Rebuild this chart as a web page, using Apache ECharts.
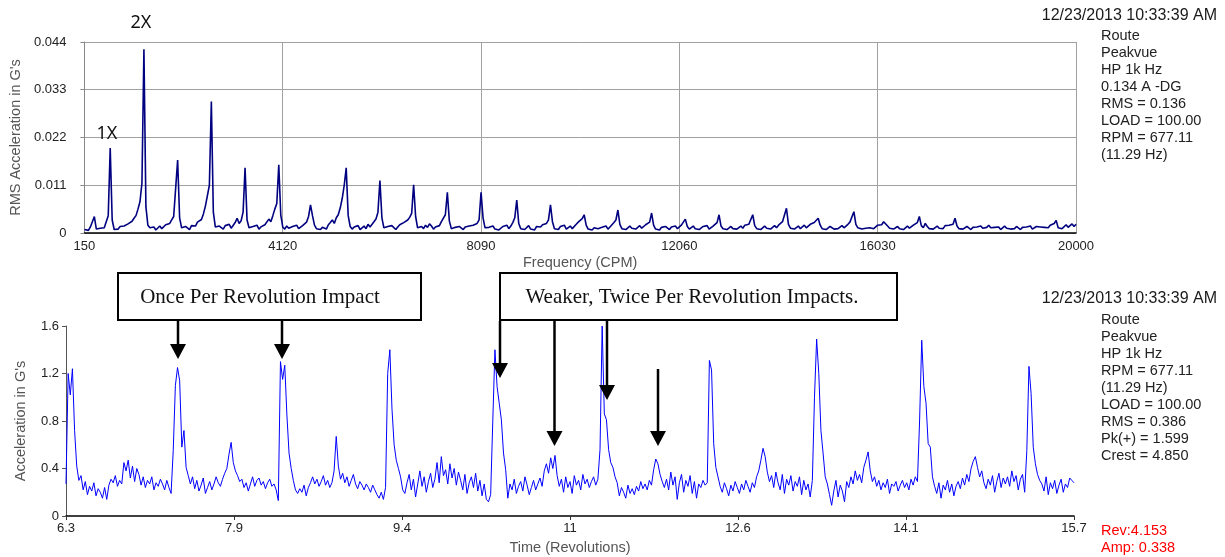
<!DOCTYPE html>
<html>
<head>
<meta charset="utf-8">
<script src="https://cdn.jsdelivr.net/npm/echarts@6/dist/echarts.min.js"></script>
<style>
html,body{margin:0;padding:0;background:#fff;}
#chart{width:1225px;height:557px;}
</style>
</head>
<body>
<div id="chart"></div>
<script>
// ---------------- DATA ----------------
// Spectrum: uniform frequency grid (CPM), amplitudes (G's RMS)
const specStartCPM = 150;
const specStepCPM = 39.7;
const specAmp = [
0.0008,0.0012,0.0006,0.0014,0.0010,0.0038,0.0009,0.0013,0.0011,0.0015,
0.0012,0.0016,0.0040,0.0196,0.0030,0.0008,0.0012,0.0009,0.0015,0.0011,
0.0016,0.0013,0.0021,0.0018,0.0027,0.0034,0.0040,0.0055,0.0072,0.0115,
0.0423,0.0060,0.0018,0.0012,0.0009,0.0014,0.0007,0.0011,0.0016,0.0010,
0.0013,0.0019,0.0015,0.0022,0.0030,0.0038,0.0042,0.0168,0.0035,0.0012,
0.0009,0.0015,0.0011,0.0008,0.0017,0.0020,0.0016,0.0025,0.0022,0.0031,
0.0044,0.0062,0.0058,0.0110,0.0303,0.0048,0.0014,0.0010,0.0016,0.0012,
0.0009,0.0017,0.0013,0.0020,0.0011,0.0015,0.0024,0.0034,0.0022,0.0028,
0.0048,0.0150,0.0030,0.0012,0.0008,0.0015,0.0011,0.0018,0.0009,0.0014,
0.0012,0.0019,0.0016,0.0032,0.0026,0.0040,0.0055,0.0068,0.0157,0.0042,
0.0014,0.0009,0.0016,0.0011,0.0007,0.0015,0.0012,0.0018,0.0010,0.0014,
0.0017,0.0013,0.0025,0.0038,0.0065,0.0040,0.0018,0.0010,0.0014,0.0008,
0.0013,0.0016,0.0009,0.0019,0.0024,0.0030,0.0022,0.0035,0.0042,0.0058,
0.0080,0.0110,0.0150,0.0040,0.0015,0.0009,0.0014,0.0011,0.0017,0.0008,
0.0012,0.0016,0.0010,0.0020,0.0014,0.0018,0.0026,0.0032,0.0048,0.0121,
0.0035,0.0012,0.0009,0.0015,0.0011,0.0017,0.0013,0.0008,0.0014,0.0019,
0.0016,0.0024,0.0021,0.0030,0.0036,0.0045,0.0111,0.0038,0.0012,0.0009,
0.0015,0.0010,0.0018,0.0013,0.0021,0.0016,0.0009,0.0014,0.0011,0.0017,
0.0026,0.0030,0.0042,0.0094,0.0028,0.0010,0.0007,0.0013,0.0009,0.0015,
0.0011,0.0008,0.0014,0.0010,0.0016,0.0012,0.0018,0.0015,0.0022,0.0030,
0.0094,0.0035,0.0012,0.0008,0.0013,0.0010,0.0016,0.0009,0.0012,0.0007,
0.0011,0.0015,0.0013,0.0018,0.0010,0.0016,0.0024,0.0035,0.0076,0.0022,
0.0010,0.0014,0.0008,0.0012,0.0017,0.0009,0.0013,0.0007,0.0015,0.0011,
0.0014,0.0019,0.0016,0.0022,0.0030,0.0065,0.0026,0.0010,0.0013,0.0008,
0.0015,0.0011,0.0018,0.0009,0.0013,0.0016,0.0010,0.0014,0.0020,0.0025,
0.0028,0.0033,0.0042,0.0018,0.0009,0.0013,0.0007,0.0012,0.0015,0.0010,
0.0008,0.0013,0.0011,0.0016,0.0009,0.0014,0.0019,0.0024,0.0030,0.0053,
0.0020,0.0010,0.0014,0.0008,0.0012,0.0016,0.0011,0.0015,0.0009,0.0013,
0.0017,0.0011,0.0014,0.0019,0.0016,0.0025,0.0046,0.0018,0.0009,0.0012,
0.0007,0.0013,0.0010,0.0015,0.0011,0.0008,0.0014,0.0012,0.0016,0.0010,
0.0013,0.0018,0.0022,0.0032,0.0015,0.0009,0.0012,0.0016,0.0010,0.0014,
0.0008,0.0012,0.0015,0.0011,0.0017,0.0009,0.0013,0.0016,0.0020,0.0024,
0.0042,0.0016,0.0010,0.0013,0.0008,0.0012,0.0015,0.0010,0.0014,0.0009,
0.0012,0.0016,0.0011,0.0018,0.0014,0.0020,0.0024,0.0042,0.0017,0.0010,
0.0013,0.0008,0.0012,0.0016,0.0011,0.0014,0.0009,0.0013,0.0017,0.0012,
0.0018,0.0022,0.0026,0.0030,0.0057,0.0020,0.0011,0.0014,0.0009,0.0013,
0.0016,0.0010,0.0014,0.0018,0.0012,0.0015,0.0020,0.0017,0.0024,0.0022,
0.0034,0.0018,0.0010,0.0013,0.0008,0.0012,0.0015,0.0011,0.0009,0.0013,
0.0010,0.0014,0.0017,0.0012,0.0016,0.0020,0.0025,0.0024,0.0049,0.0020,
0.0012,0.0016,0.0009,0.0013,0.0011,0.0008,0.0012,0.0015,0.0010,0.0014,
0.0018,0.0022,0.0019,0.0026,0.0029,0.0016,0.0011,0.0014,0.0009,0.0012,
0.0015,0.0010,0.0013,0.0008,0.0012,0.0016,0.0011,0.0014,0.0018,0.0020,
0.0024,0.0038,0.0017,0.0012,0.0022,0.0015,0.0010,0.0013,0.0009,0.0012,
0.0016,0.0011,0.0014,0.0010,0.0017,0.0013,0.0018,0.0022,0.0020,0.0034,
0.0016,0.0010,0.0013,0.0009,0.0012,0.0015,0.0011,0.0008,0.0013,0.0010,
0.0014,0.0012,0.0016,0.0011,0.0015,0.0013,0.0018,0.0012,0.0009,0.0013,
0.0010,0.0014,0.0008,0.0012,0.0016,0.0011,0.0014,0.0009,0.0013,0.0010,
0.0015,0.0012,0.0008,0.0013,0.0010,0.0014,0.0011,0.0016,0.0009,0.0012,
0.0015,0.0011,0.0014,0.0010,0.0013,0.0016,0.0012,0.0018,0.0015,0.0022,
0.0029,0.0012,0.0016,0.0010,0.0014,0.0019,0.0013,0.0017,0.0021,0.0015,0.0020
];

// Waveform: uniform time grid (revolutions), amplitudes (G's)
const waveStartRev = 6.3;
const waveStepRev = 0.02;
const waveAmp = [
0.27,1.20,1.02,1.24,0.72,0.42,0.30,0.34,0.22,0.29,
0.18,0.25,0.21,0.28,0.17,0.23,0.20,0.15,0.24,0.14,
0.26,0.31,0.28,0.34,0.25,0.30,0.27,0.45,0.38,0.47,
0.32,0.42,0.29,0.40,0.35,0.26,0.33,0.24,0.30,0.27,
0.33,0.22,0.28,0.25,0.31,0.27,0.22,0.30,0.24,0.19,
0.55,1.10,1.25,1.14,0.58,0.72,0.41,0.34,0.27,0.33,
0.23,0.30,0.21,0.26,0.32,0.19,0.24,0.29,0.22,0.27,
0.33,0.28,0.25,0.31,0.36,0.40,0.52,0.62,0.45,0.38,
0.34,0.29,0.31,0.24,0.28,0.21,0.27,0.33,0.25,0.30,
0.32,0.26,0.29,0.23,0.28,0.31,0.25,0.27,0.22,0.13,
1.30,1.15,1.27,0.85,0.53,0.40,0.30,0.22,0.19,0.23,
0.20,0.26,0.17,0.24,0.28,0.33,0.27,0.31,0.25,0.29,
0.34,0.26,0.30,0.24,0.28,0.38,0.67,0.42,0.31,0.36,
0.28,0.33,0.25,0.30,0.35,0.27,0.23,0.29,0.26,0.22,
0.27,0.24,0.20,0.26,0.22,0.18,0.15,0.20,0.14,0.24,
1.20,1.40,0.90,0.60,0.47,0.40,0.33,0.22,0.19,0.28,
0.35,0.22,0.31,0.16,0.27,0.38,0.25,0.33,0.20,0.29,
0.36,0.24,0.31,0.45,0.28,0.50,0.34,0.39,0.27,0.44,
0.32,0.40,0.26,0.37,0.30,0.22,0.35,0.19,0.28,0.33,
0.24,0.36,0.21,0.30,0.17,0.27,0.14,0.12,0.18,0.80,
1.40,1.09,0.95,0.81,0.53,0.39,0.15,0.27,0.22,0.31,
0.19,0.25,0.29,0.21,0.33,0.26,0.18,0.24,0.30,0.22,
0.27,0.32,0.25,0.38,0.44,0.36,0.49,0.40,0.51,0.34,
0.25,0.31,0.20,0.33,0.24,0.29,0.19,0.34,0.26,0.30,
0.22,0.35,0.27,0.31,0.24,0.29,0.33,0.26,0.31,0.56,
1.60,0.86,0.81,0.56,0.45,0.41,0.33,0.28,0.17,0.24,
0.20,0.15,0.26,0.19,0.23,0.18,0.25,0.21,0.29,0.23,
0.27,0.22,0.30,0.26,0.39,0.48,0.44,0.35,0.29,0.24,
0.31,0.22,0.37,0.26,0.33,0.14,0.28,0.35,0.20,0.30,
0.25,0.34,0.19,0.29,0.15,0.27,0.24,0.30,0.26,0.28,
1.31,1.23,0.61,0.41,0.33,0.25,0.20,0.28,0.23,0.17,
0.26,0.21,0.29,0.24,0.19,0.27,0.22,0.30,0.25,0.20,
0.28,0.24,0.33,0.38,0.47,0.57,0.50,0.37,0.29,0.34,
0.24,0.37,0.28,0.22,0.35,0.19,0.31,0.26,0.34,0.21,
0.29,0.25,0.33,0.18,0.30,0.22,0.27,0.16,0.30,1.00,
1.49,1.20,0.72,0.53,0.33,0.27,0.18,0.09,0.21,0.30,
0.16,0.26,0.21,0.12,0.29,0.24,0.33,0.27,0.38,0.30,
0.35,0.28,0.41,0.47,0.54,0.38,0.29,0.33,0.25,0.30,
0.22,0.28,0.24,0.31,0.19,0.27,0.25,0.29,0.21,0.26,
0.30,0.24,0.28,0.22,0.31,0.26,0.33,0.29,0.80,1.48,
1.09,0.95,0.61,0.58,0.33,0.25,0.19,0.28,0.15,0.26,
0.22,0.30,0.20,0.27,0.17,0.25,0.29,0.23,0.32,0.26,
0.35,0.29,0.40,0.46,0.50,0.41,0.33,0.38,0.28,0.23,
0.31,0.26,0.34,0.20,0.29,0.36,0.24,0.32,0.27,0.33,
0.25,0.38,0.29,0.34,0.22,0.31,0.35,0.20,0.55,1.26,
1.03,0.58,0.44,0.35,0.30,0.27,0.21,0.33,0.18,0.28,
0.23,0.30,0.19,0.26,0.31,0.20,0.27,0.24,0.32,0.30,0.28
];

// Axis settings / labels
const specTicks = { min: 150, max: 20000, interval: 3970 };
const specYTicks = { min: 0, max: 0.044, interval: 0.011 };
const waveTicks = { min: 6.3, max: 15.7, interval: 1.56667 };
const waveYTicks = { min: 0, max: 1.6, interval: 0.4 };

const stamp = '12/23/2013 10:33:39 AM';
const topInfo = ['Route', 'Peakvue', 'HP 1k Hz', '0.134 A -DG', 'RMS = 0.136', 'LOAD = 100.00', 'RPM = 677.11', '(11.29 Hz)'];
const bottomInfo = ['Route', 'Peakvue', 'HP 1k Hz', 'RPM = 677.11', '(11.29 Hz)', 'LOAD = 100.00', 'RMS = 0.386', 'Pk(+) = 1.599', 'Crest = 4.850'];
const cursorInfo = ['Rev:4.153', 'Amp: 0.338'];
const noteOnce = 'Once Per Revolution Impact';
const noteTwice = 'Weaker, Twice Per Revolution Impacts.';

// ---------------- CHART ----------------
const specData = specAmp.map((v, i) => [specStartCPM + i * specStepCPM, v]);
const waveData = waveAmp.map((v, i) => [waveStartRev + i * waveStepRev, v]);

const chart = echarts.init(document.getElementById('chart'), null, { renderer: 'canvas' });

const labelFont = { fontFamily: 'Liberation Sans', fontSize: 13, color: '#222' };
const nameFont = { fontFamily: 'Liberation Sans', fontSize: 14.5, color: '#555' };

function arrow(x, yTop, yTip) {
  return [
    { type: 'line', z: 100, shape: { x1: x, y1: yTop, x2: x, y2: yTip - 14 }, style: { stroke: '#000', lineWidth: 2.5 } },
    { type: 'polygon', z: 100, shape: { points: [[x - 8, yTip - 15], [x + 8, yTip - 15], [x, yTip]] }, style: { fill: '#000' } }
  ];
}

const graphics = [
  { type: 'text', z: 100, x: 1217, y: 16, style: { text: stamp, font: '16px "Liberation Sans"', fill: '#1a1a1a', align: 'right', verticalAlign: 'middle' } },
  { type: 'text', z: 100, x: 1101, y: 27.5, style: { text: topInfo.join('\n'), font: '14.5px "Liberation Sans"', fill: '#222', lineHeight: 17, align: 'left', verticalAlign: 'top' } },
  { type: 'text', z: 100, x: 1217, y: 299, style: { text: stamp, font: '16px "Liberation Sans"', fill: '#1a1a1a', align: 'right', verticalAlign: 'middle' } },
  { type: 'text', z: 100, x: 1101, y: 311, style: { text: bottomInfo.join('\n'), font: '14.5px "Liberation Sans"', fill: '#222', lineHeight: 17, align: 'left', verticalAlign: 'top' } },
  { type: 'text', z: 100, x: 1101, y: 522, style: { text: cursorInfo.join('\n'), font: '14.5px "Liberation Sans"', fill: '#ff0000', lineHeight: 17, align: 'left', verticalAlign: 'top' } },
  { type: 'text', z: 100, x: 107, y: 134, style: { text: '1X', font: '18px "Noto Sans"', fill: '#111', align: 'center', verticalAlign: 'middle' } },
  { type: 'text', z: 100, x: 141, y: 23, style: { text: '2X', font: '18px "Noto Sans"', fill: '#111', align: 'center', verticalAlign: 'middle' } },
  { type: 'rect', z: 100, shape: { x: 118, y: 273, width: 303, height: 47 }, style: { fill: '#fff', stroke: '#000', lineWidth: 2 } },
  { type: 'text', z: 101, x: 260, y: 297, style: { text: noteOnce, font: '21px "Liberation Serif"', fill: '#111', align: 'center', verticalAlign: 'middle' } },
  { type: 'rect', z: 100, shape: { x: 500, y: 273, width: 397, height: 47 }, style: { fill: '#fff', stroke: '#000', lineWidth: 2 } },
  { type: 'text', z: 101, x: 692, y: 297, style: { text: noteTwice, font: '21px "Liberation Serif"', fill: '#111', align: 'center', verticalAlign: 'middle' } }
]
.concat(arrow(178, 321, 359))
.concat(arrow(282, 321, 359))
.concat(arrow(500, 321, 378))
.concat(arrow(554.5, 321, 446))
.concat(arrow(607, 321, 400))
.concat(arrow(658, 369, 446));

const option = {
  animation: false,
  backgroundColor: '#fff',
  grid: [
    { left: 82, top: 42, width: 994, height: 191, containLabel: false },
    { left: 66, top: 326, width: 1008, height: 190, containLabel: false }
  ],
  xAxis: [
    {
      gridIndex: 0, type: 'value', min: specTicks.min, max: specTicks.max, interval: specTicks.interval,
      name: 'Frequency (CPM)', nameLocation: 'middle', nameGap: 22, nameTextStyle: nameFont,
      axisLine: { show: true, onZero: false, lineStyle: { color: '#000', width: 1.5 } },
      axisTick: { show: false },
      axisLabel: Object.assign({ margin: 7, formatter: v => String(Math.round(v)) }, labelFont),
      splitLine: { show: true, lineStyle: { color: '#a0a0a0', width: 1 } }
    },
    {
      gridIndex: 1, type: 'value', min: waveTicks.min, max: waveTicks.max, interval: waveTicks.interval,
      name: 'Time (Revolutions)', nameLocation: 'middle', nameGap: 24, nameTextStyle: nameFont,
      axisLine: { show: true, onZero: false, lineStyle: { color: '#000', width: 1.5 } },
      axisTick: { show: true, length: 4, lineStyle: { color: '#333' } },
      axisLabel: Object.assign({ margin: 6, formatter: v => String(Math.round(v * 10) / 10) }, labelFont),
      splitLine: { show: false }
    }
  ],
  yAxis: [
    {
      gridIndex: 0, type: 'value', min: specYTicks.min, max: specYTicks.max, interval: specYTicks.interval,
      name: "RMS Acceleration in G's", nameLocation: 'middle', nameGap: 55, nameTextStyle: nameFont,
      axisLine: { show: true, lineStyle: { color: '#888' } },
      axisTick: { show: true, length: 4, lineStyle: { color: '#888' } },
      axisLabel: Object.assign({ margin: 18, formatter: v => String(Math.round(v * 1000) / 1000) }, labelFont),
      splitLine: { show: true, lineStyle: { color: '#a0a0a0', width: 1 } }
    },
    {
      gridIndex: 1, type: 'value', min: waveYTicks.min, max: waveYTicks.max, interval: waveYTicks.interval,
      name: "Acceleration in G's", nameLocation: 'middle', nameGap: 38, nameTextStyle: nameFont,
      axisLine: { show: true, lineStyle: { color: '#555' } },
      axisTick: { show: true, length: 4, lineStyle: { color: '#555' } },
      axisLabel: Object.assign({ margin: 7, formatter: v => String(Math.round(v * 10) / 10) }, labelFont),
      splitLine: { show: false }
    }
  ],
  series: [
    {
      type: 'line', xAxisIndex: 0, yAxisIndex: 0, data: specData,
      showSymbol: false, symbol: 'none', clip: true,
      lineStyle: { color: '#000080', width: 1.6 }
    },
    {
      type: 'line', xAxisIndex: 1, yAxisIndex: 1, data: waveData,
      showSymbol: false, symbol: 'none', clip: true,
      lineStyle: { color: '#0000ff', width: 1 }
    }
  ],
  graphic: graphics
};

chart.setOption(option);
</script>
</body>
</html>
